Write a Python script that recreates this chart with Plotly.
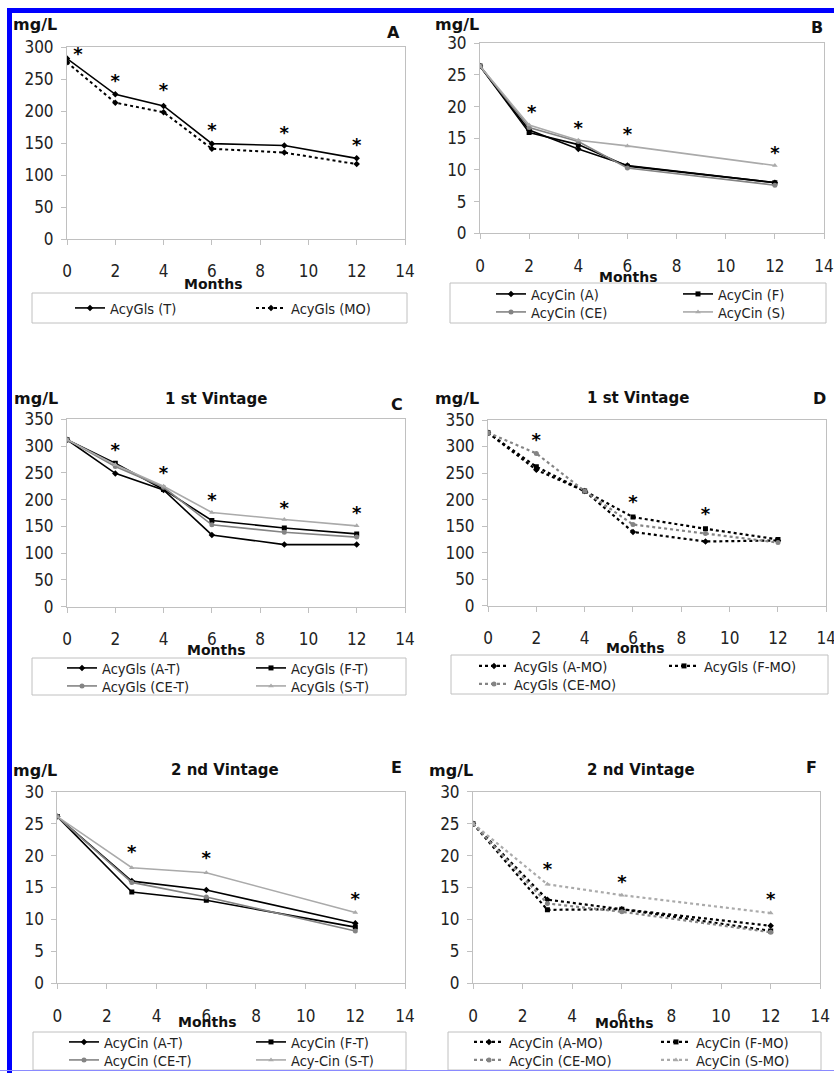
import plotly.graph_objects as go

W, H = 834, 1073
FONT = "DejaVu Sans Condensed, DejaVu Sans, sans-serif"

# ---------------- data ----------------
# Panel A
months_a = [0, 2, 4, 6, 9, 12]
acygls_t = [282, 226, 208, 149, 146, 126]
acygls_mo = [276, 213, 198, 141, 135, 117]
star_a_x = [0.45, 2, 4, 6, 9, 12]
star_a_y = [287, 245, 230, 168, 164, 145]

# Panel B
months_b = [0, 2, 4, 6, 12]
acycin_a = [26.4, 16.3, 13.3, 10.7, 8.0]
acycin_f = [26.4, 15.9, 14.0, 10.6, 8.0]
acycin_ce = [26.4, 16.7, 14.5, 10.3, 7.6]
acycin_s = [26.4, 17.1, 14.7, 13.8, 10.7]
star_b_x = [2.1, 4, 6, 12]
star_b_y = [18.9, 16.4, 15.4, 12.5]

# Panel C (1st vintage, T)
months_c = [0, 2, 4, 6, 9, 12]
c_a_t = [312, 249, 218, 134, 116, 116]
c_f_t = [312, 268, 219, 161, 147, 136]
c_ce_t = [312, 262, 223, 153, 139, 130]
c_s_t = [312, 265, 225, 176, 163, 151]
star_c_x = [2, 4, 6, 9, 12]
star_c_y = [290, 246, 196, 181, 172]

# Panel D (1st vintage, MO)
months_d = [0, 2, 4, 6, 9, 12]
d_a_mo = [326, 256, 216, 139, 121, 123]
d_f_mo = [326, 262, 216, 167, 145, 125]
d_ce_mo = [326, 287, 216, 153, 136, 119]
star_d_x = [2, 6, 9]
star_d_y = [309, 193, 170]

# Panel E (2nd vintage, T)
months_e = [0, 3, 6, 12]
e_a_t = [26.1, 16.0, 14.6, 9.4]
e_f_t = [26.1, 14.3, 13.0, 8.8]
e_ce_t = [26.1, 15.8, 13.5, 8.2]
e_s_t = [26.1, 18.1, 17.3, 11.1]
star_e_x = [3, 6, 12]
star_e_y = [20.3, 19.4, 12.9]

# Panel F (2nd vintage, MO)
months_f = [0, 3, 6, 12]
f_a_mo = [25.0, 13.1, 11.6, 9.0]
f_f_mo = [25.0, 11.5, 11.6, 8.2]
f_ce_mo = [25.0, 12.5, 11.2, 8.0]
f_s_mo = [25.0, 15.5, 13.8, 11.0]
star_f_x = [3, 6, 12]
star_f_y = [17.6, 15.7, 13.0]

# ---------------- styling ----------------
BLACK = "#000000"
GRAY = "#848484"
LGRAY = "#aaaaaa"
AXC = "#c0c0c0"


def px(x):
    return x / W


def py(y):
    return 1 - y / H


fig = go.Figure()

# panel geometry in pixels: (x0, x1, ytop, ybottom, ymax, dtick)
panels = {
    1: (67, 405, 47, 239, 300, 50),
    2: (480, 824, 43.3, 233.3, 30, 5),
    3: (67, 405, 419.3, 606.7, 350, 50),
    4: (488, 826.3, 420, 605.7, 350, 50),
    5: (57.3, 405, 791.7, 983.3, 30, 5),
    6: (473, 820.3, 791.7, 983.3, 30, 5),
}


def add_line(k, xs, ys, name, color, dash, symbol, legend, width=1.6, msize=5):
    sfx = "" if k == 1 else str(k)
    fig.add_trace(go.Scatter(
        x=xs, y=ys, name=name, mode="lines+markers",
        line=dict(color=color, width=width, dash=dash),
        marker=dict(color=color, symbol=symbol, size=msize),
        xaxis="x" + sfx, yaxis="y" + sfx, legend=legend,
    ))


def add_stars(k, xs, ys):
    sfx = "" if k == 1 else str(k)
    fig.add_trace(go.Scatter(
        x=xs, y=ys, mode="text", text=["<b>*</b>"] * len(xs),
        textfont=dict(family="DejaVu Sans, sans-serif", size=18, color="black"),
        textposition="middle center", showlegend=False, hoverinfo="skip",
        xaxis="x" + sfx, yaxis="y" + sfx,
    ))


# Panel A
add_line(1, months_a, acygls_t, "AcyGls (T)", BLACK, "solid", "diamond", "legend")
add_line(1, months_a, acygls_mo, "AcyGls (MO)", BLACK, "dot", "diamond", "legend", width=2)
add_stars(1, star_a_x, star_a_y)

# Panel B
add_line(2, months_b, acycin_a, "AcyCin (A)", BLACK, "solid", "diamond", "legend2")
add_line(2, months_b, acycin_f, "AcyCin (F)", BLACK, "solid", "square", "legend2")
add_line(2, months_b, acycin_ce, "AcyCin (CE)", GRAY, "solid", "circle", "legend3")
add_line(2, months_b, acycin_s, "AcyCin (S)", LGRAY, "solid", "triangle-up", "legend3")
add_stars(2, star_b_x, star_b_y)

# Panel C
add_line(3, months_c, c_a_t, "AcyGls (A-T)", BLACK, "solid", "diamond", "legend4")
add_line(3, months_c, c_f_t, "AcyGls (F-T)", BLACK, "solid", "square", "legend4")
add_line(3, months_c, c_ce_t, "AcyGls (CE-T)", GRAY, "solid", "circle", "legend5")
add_line(3, months_c, c_s_t, "AcyGls (S-T)", LGRAY, "solid", "triangle-up", "legend5")
add_stars(3, star_c_x, star_c_y)

# Panel D
add_line(4, months_d, d_a_mo, "AcyGls (A-MO)", BLACK, "dot", "diamond", "legend6", width=2.2)
add_line(4, months_d, d_f_mo, "AcyGls (F-MO)", BLACK, "dot", "square", "legend6", width=2.2)
add_line(4, months_d, d_ce_mo, "AcyGls (CE-MO)", GRAY, "dot", "circle", "legend7", width=2.2)
add_stars(4, star_d_x, star_d_y)

# Panel E
add_line(5, months_e, e_a_t, "AcyCin (A-T)", BLACK, "solid", "diamond", "legend8")
add_line(5, months_e, e_f_t, "AcyCin (F-T)", BLACK, "solid", "square", "legend8")
add_line(5, months_e, e_ce_t, "AcyCin (CE-T)", GRAY, "solid", "circle", "legend9")
add_line(5, months_e, e_s_t, "Acy-Cin (S-T)", LGRAY, "solid", "triangle-up", "legend9")
add_stars(5, star_e_x, star_e_y)

# Panel F
add_line(6, months_f, f_a_mo, "AcyCin (A-MO)", BLACK, "dot", "diamond", "legend10", width=2.2)
add_line(6, months_f, f_f_mo, "AcyCin (F-MO)", BLACK, "dot", "square", "legend10", width=2.2)
add_line(6, months_f, f_ce_mo, "AcyCin (CE-MO)", GRAY, "dot", "circle", "legend11", width=2.2)
add_line(6, months_f, f_s_mo, "AcyCin (S-MO)", LGRAY, "dot", "triangle-up", "legend11", width=2.2)
add_stars(6, star_f_x, star_f_y)

layout = dict(
    width=W, height=H, margin=dict(l=0, r=0, t=0, b=0, autoexpand=False),
    paper_bgcolor="white", plot_bgcolor="white",
    font=dict(family=FONT, color="#222"),
)

for k, (x0, x1, yt, yb, ymax, dt) in panels.items():
    sfx = "" if k == 1 else str(k)
    layout["xaxis" + sfx] = dict(
        domain=[px(x0), px(x1)], range=[0, 14], tick0=0, dtick=2,
        anchor="y" + sfx, showline=True, linecolor=AXC, linewidth=1, mirror=True,
        ticks="outside", ticklen=5, tickcolor=AXC, showgrid=False, zeroline=False,
        tickfont=dict(family=FONT, size=17, color="#222"), ticklabelstandoff=12,
        ticklabeloverflow="allow", fixedrange=True, automargin=False,
    )
    layout["yaxis" + sfx] = dict(
        domain=[py(yb), py(yt)], range=[0, ymax], tick0=0, dtick=dt,
        anchor="x" + sfx, showline=True, linecolor=AXC, linewidth=1, mirror=True,
        ticks="outside", ticklen=5, tickcolor=AXC, showgrid=False, zeroline=False,
        tickfont=dict(family=FONT, size=17, color="#222"), ticklabelstandoff=4,
        fixedrange=True, automargin=False,
    )

# legend frames in pixels: x0, x1, y0, y1
legend_boxes = [
    (32, 407, 293, 323),
    (450, 826, 283, 323),
    (32, 406, 658, 695),
    (451, 828, 655, 694),
    (33, 406, 1032, 1070),
    (448, 821, 1032, 1070),
]
# legend rows: first symbol x, row centre y, column offset
legend_rows = {
    "legend": (76, 308, 181),
    "legend2": (497, 294, 187),
    "legend3": (497, 312, 187),
    "legend4": (68, 668, 189),
    "legend5": (68, 686, 189),
    "legend6": (480, 666, 190),
    "legend7": (480, 684, 190),
    "legend8": (70, 1042, 187),
    "legend9": (70, 1060, 187),
    "legend10": (475, 1042, 187),
    "legend11": (475, 1060, 187),
}
shapes = []
for (bx0, bx1, by0, by1) in legend_boxes:
    shapes.append(dict(type="rect", xref="paper", yref="paper",
                       x0=px(bx0), x1=px(bx1), y0=py(by1), y1=py(by0),
                       line=dict(color=AXC, width=1), fillcolor="rgba(0,0,0,0)",
                       layer="below"))
for name, (sx, ry, coloff) in legend_rows.items():
    layout[name] = dict(
        x=px(sx - 6), y=py(ry), xanchor="left", yanchor="middle",
        orientation="h", borderwidth=0, bgcolor="rgba(0,0,0,0)",
        font=dict(family=FONT, size=14.5, color="#222"), itemwidth=30,
        entrywidth=coloff - 45,
    )

annotations = []


def ann(text, x, y, size, bold=True):
    t = "<b>%s</b>" % text if bold else text
    annotations.append(dict(
        text=t, x=px(x), y=py(y), xref="paper", yref="paper",
        xanchor="center", yanchor="middle", showarrow=False,
        font=dict(family="DejaVu Sans, sans-serif", size=size, color="#111"),
    ))


# y unit labels
for (x, y) in [(35, 25), (457, 25), (36, 398), (457, 398), (35, 770), (451, 770)]:
    ann("mg/L", x, y, 16)
# panel letters
for (t, x, y) in [("A", 393, 32), ("B", 817, 27), ("C", 397, 405), ("D", 819, 398),
                  ("E", 396, 767), ("F", 811, 767)]:
    ann(t, x, y, 16)
# titles
for (t, x, y) in [("1 st Vintage", 216, 399), ("1 st Vintage", 638, 398),
                  ("2 nd Vintage", 225, 770), ("2 nd Vintage", 641, 770)]:
    ann(t, x, y, 15)
# x axis titles
for (x, y) in [(213, 284), (628, 277), (216, 650), (635, 648), (207, 1022), (624, 1023)]:
    ann("Months", x, y, 14)

layout["annotations"] = annotations

# blue frame
shapes += [
    dict(type="rect", xref="paper", yref="paper", x0=px(7), x1=1, y0=py(13), y1=py(8),
         fillcolor="#0000ff", line=dict(width=0)),
    dict(type="rect", xref="paper", yref="paper", x0=px(7), x1=px(12), y0=0, y1=py(8),
         fillcolor="#0000ff", line=dict(width=0)),
    dict(type="line", xref="paper", yref="paper", x0=0, x1=1, y0=py(1070.5), y1=py(1070.5),
         line=dict(color="#8a8aff", width=1)),
]
layout["shapes"] = shapes

fig.update_layout(**layout)
fig.write_html(
    "out.html",
    config={"displayModeBar": False},
    post_script="document.body.style.margin='0px';document.body.style.padding='0px';"
                "document.body.style.overflow='hidden';",
)
